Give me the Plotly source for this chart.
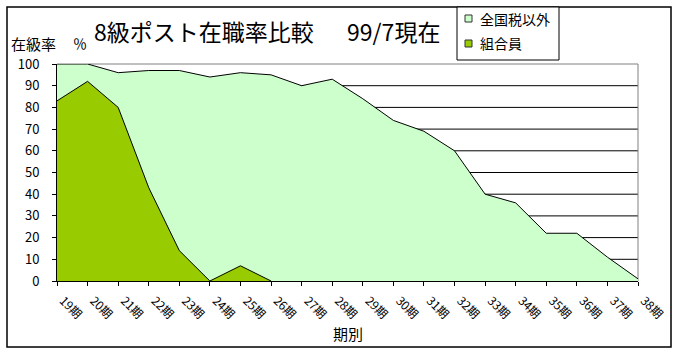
import plotly.graph_objects as go

periods = ["19期", "20期", "21期", "22期", "23期", "24期", "25期", "26期", "27期", "28期",
           "29期", "30期", "31期", "32期", "33期", "34期", "35期", "36期", "37期", "38期"]
non_union = [100, 100, 96, 97, 97, 94, 96, 95, 90, 93,
             84, 74, 69, 60, 40, 36, 22, 22, 11, 1]
union = [83, 92, 80, 43, 14, 0, 7, 0, None, None,
         None, None, None, None, None, None, None, None, None, None]
y_ticks = [0, 10, 20, 30, 40, 50, 60, 70, 80, 90, 100]

name_a = "全国税以外"
name_b = "組合員"
title = "8級ポスト在職率比較\u3000\u00a0\u00a099/7現在"
ylab = "在級率"
xlab = "期別"

W, H = 680, 355
L, R, T, B = 57, 42, 64, 74
PW, PH = W - L - R, H - T - B

def px(x):
    return (x - L) / PW

def py(y):
    return (H - B - y) / PH

FONT = "Noto Sans CJK JP"
LIGHT = "#CCFFCC"
DARK = "#99CC00"

fig = go.Figure()
fig.add_trace(go.Scatter(x=periods, y=non_union, name=name_a, mode="lines",
                         fill="tozeroy", fillcolor=LIGHT,
                         line=dict(color="black", width=1), showlegend=False))
fig.add_trace(go.Scatter(x=periods, y=union, name=name_b, mode="lines",
                         fill="tozeroy", fillcolor=DARK,
                         line=dict(color="black", width=1), showlegend=False))

shapes = []
for v in y_ticks[1:-1]:
    shapes.append(dict(type="line", xref="paper", yref="y", x0=0, x1=1, y0=v, y1=v,
                       line=dict(color="black", width=1), layer="below"))
shapes.append(dict(type="rect", xref="paper", yref="paper", x0=0, x1=1, y0=0, y1=1,
                   line=dict(color="#808080", width=1), layer="below"))
shapes.append(dict(type="rect", xref="paper", yref="paper", x0=px(7), x1=px(671),
                   y0=py(347), y1=py(7), line=dict(color="black", width=1.5)))
shapes.append(dict(type="rect", xref="paper", yref="paper", x0=px(457), x1=px(559),
                   y0=py(60), y1=py(7), line=dict(color="black", width=1),
                   fillcolor="white"))
shapes.append(dict(type="rect", xref="paper", yref="paper", x0=px(465), x1=px(472),
                   y0=py(22), y1=py(15), line=dict(color="#333333", width=1),
                   fillcolor=LIGHT))
shapes.append(dict(type="rect", xref="paper", yref="paper", x0=px(465), x1=px(472),
                   y0=py(47), y1=py(40), line=dict(color="#333333", width=1),
                   fillcolor=DARK))

annotations = [
    dict(text=title, xref="paper", yref="paper", x=px(92), y=py(31), xanchor="left",
         yanchor="middle", showarrow=False, font=dict(family=FONT, size=23, color="black")),
    dict(text=ylab, xref="paper", yref="paper", x=px(9), y=py(43), xanchor="left",
         yanchor="middle", showarrow=False, font=dict(family=FONT, size=15, color="black")),
    dict(text="％", xref="paper", yref="paper", x=px(71), y=py(43), xanchor="left",
         yanchor="middle", showarrow=False, font=dict(family=FONT, size=14, color="black")),
    dict(text=xlab, xref="paper", yref="paper", x=0.5, y=py(333), xanchor="center",
         yanchor="middle", showarrow=False, font=dict(family=FONT, size=15, color="black")),
    dict(text=name_a, xref="paper", yref="paper", x=px(478), y=py(19), xanchor="left",
         yanchor="middle", showarrow=False, font=dict(family=FONT, size=14, color="black")),
    dict(text=name_b, xref="paper", yref="paper", x=px(478), y=py(43), xanchor="left",
         yanchor="middle", showarrow=False, font=dict(family=FONT, size=14, color="black")),
]

fig.update_layout(
    width=W, height=H,
    margin=dict(l=L, r=R, t=T, b=B, pad=0),
    paper_bgcolor="white", plot_bgcolor="white",
    shapes=shapes, annotations=annotations, showlegend=False,
    font=dict(family=FONT, color="black"),
)
fig.update_xaxes(type="category", range=[0, len(periods) - 1], showgrid=False,
                 showline=True, linecolor="black", linewidth=1,
                 ticks="outside", ticklen=4, tickcolor="black",
                 tickangle=45, tickfont=dict(family=FONT, size=12),
                 ticklabelstandoff=3, ticklabelshift=6,
                 zeroline=False, fixedrange=True)
fig.update_yaxes(range=[0, 100], tickvals=y_ticks, showgrid=False,
                 showline=True, linecolor="black", linewidth=1,
                 ticks="outside", ticklen=4, tickcolor="black",
                 tickfont=dict(family=FONT, size=13), ticklabelstandoff=10,
                 zeroline=False, fixedrange=True)

fig.write_html("out.html", config={"displayModeBar": False},
               post_script="document.body.style.margin='0px';")
